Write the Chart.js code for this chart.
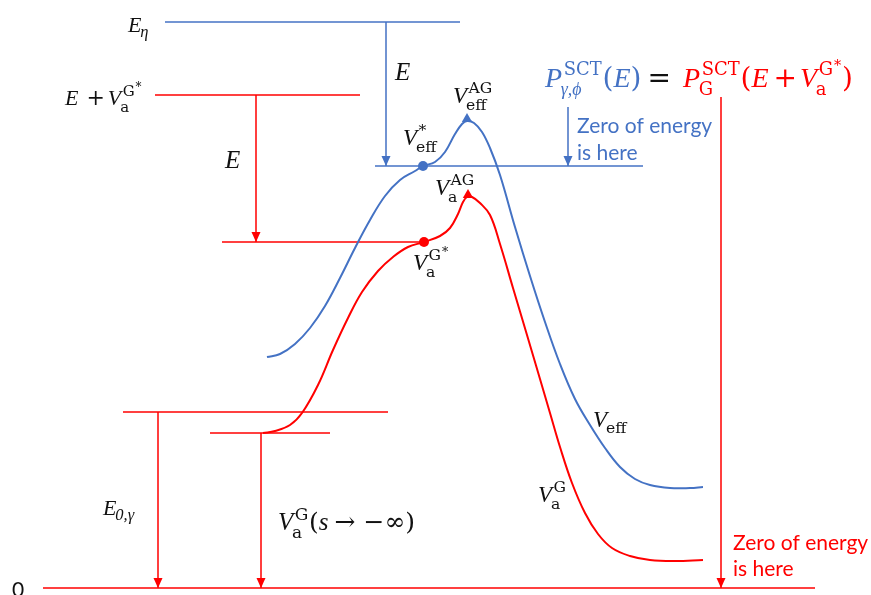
<!DOCTYPE html>
<html>
<head>
<meta charset="utf-8">
<script src="https://cdn.jsdelivr.net/npm/chart.js@4/dist/chart.umd.min.js"></script>
<style>
  html, body { margin: 0; padding: 0; background: #fff; }
  #wrap { width: 871px; height: 595px; }
</style>
</head>
<body>
<div id="wrap"><canvas id="diagram" width="871" height="595"></canvas></div>
<script>
// Energy diagram (reaction coordinate s vs energy, zero at bottom line)

// Effective potential V_eff (blue)
const sEff = [267, 280, 295, 310, 325, 340, 355, 370, 385, 400, 415, 423, 435, 445, 455, 462, 467, 474, 482, 490, 500, 515, 530, 545, 560, 575, 590, 605, 620, 635, 650, 670, 690, 703];
const vEff = [231, 234, 244, 260, 282, 310, 340, 368, 392, 408, 417, 422, 426, 436, 454, 464, 467, 465, 456, 440, 413, 361, 312, 266, 224, 189, 163, 140, 121, 109, 103, 100, 100, 101];

// Adiabatic ground-state potential V_a^G (red)
const sAG = [263, 275, 290, 302, 318, 333, 348, 362, 378, 393, 408, 424, 440, 450, 458, 463, 467, 472, 480, 490, 500, 513, 527, 540, 550, 560, 572, 585, 598, 612, 630, 650, 675, 703];
const vAG = [155, 157, 163, 175, 203, 238, 270, 296, 317, 331, 341, 346, 352, 360, 374, 386, 391, 391, 385, 373, 344, 300, 253, 209, 175, 141, 105, 75, 54, 40, 32, 28, 27, 28];

// Horizontal energy levels: energy, start s, end s
const blueLevelE = [566, 422];
const blueLevelFrom = [165, 375];
const blueLevelTo = [460, 643];
const redLevelE = [493, 346, 176, 155, 0];
const redLevelFrom = [155, 222, 123, 210, 43];
const redLevelTo = [360, 424, 388, 330, 815];

// Vertical arrows: s, energy at tail, energy at head
const blueArrowS = [386, 568];
const blueArrowFrom = [566, 481];
const blueArrowTo = [422, 422];
const redArrowS = [256, 721, 158, 261];
const redArrowFrom = [493, 491, 176, 155];
const redArrowTo = [346, 0, 0, 0];

// Marked points
const starS = [423, 424];      // V*_eff, V_a^G*
const starE = [422, 346];
const peakS = [467, 468];      // V_eff^AG, V_a^AG
const peakE = [469, 393];

const BLUE = '#4472C4';
const RED = '#FF0000';
const BLACK = '#111';
const SERIF_IT = '"Liberation Serif", "DejaVu Serif", serif';
const SERIF_UP = '"DejaVu Serif", "Liberation Serif", serif';
const SANS = 'Lato, "Open Sans", sans-serif';

function xy(xs, ys) {
    return xs.map((x, i) => ({ x: x, y: ys[i] }));
}

const datasets = [];

datasets.push({
    label: 'V_eff', data: xy(sEff, vEff), showLine: true,
    borderColor: BLUE, borderWidth: 2, pointRadius: 0, tension: 0.4
});
datasets.push({
    label: 'V_a^G', data: xy(sAG, vAG), showLine: true,
    borderColor: RED, borderWidth: 2, pointRadius: 0, tension: 0.4
});

function addLevels(es, from, to, color) {
    es.forEach((e, i) => {
        datasets.push({
            data: [{ x: from[i], y: e }, { x: to[i], y: e }], showLine: true,
            borderColor: color, borderWidth: 1.5, pointRadius: 0, tension: 0
        });
    });
}
addLevels(blueLevelE, blueLevelFrom, blueLevelTo, BLUE);
addLevels(redLevelE, redLevelFrom, redLevelTo, RED);

function addArrows(ss, from, to, color) {
    ss.forEach((s, i) => {
        datasets.push({
            data: [{ x: s, y: from[i] }, { x: s, y: to[i] }], showLine: true,
            borderColor: color, borderWidth: 1.5, pointRadius: 0, tension: 0,
            arrow: true
        });
    });
}
addArrows(blueArrowS, blueArrowFrom, blueArrowTo, BLUE);
addArrows(redArrowS, redArrowFrom, redArrowTo, RED);

datasets.push({
    data: xy(starS, starE), showLine: false, pointStyle: 'circle', pointRadius: 5,
    backgroundColor: [BLUE, RED], borderColor: [BLUE, RED], borderWidth: 0
});
datasets.push({
    data: xy(peakS, peakE), showLine: false, pointStyle: 'triangle', pointRadius: 6,
    backgroundColor: [BLUE, RED], borderColor: [BLUE, RED], borderWidth: 0
});

// Arrowheads: tip at the last point of each arrow dataset
const arrowHeads = {
    id: 'arrowHeads',
    afterDatasetsDraw(chart) {
        const ctx = chart.ctx;
        chart.data.datasets.forEach((ds, i) => {
            if (!ds.arrow) return;
            const pts = chart.getDatasetMeta(i).data;
            const a = pts[0], b = pts[pts.length - 1];
            const ang = Math.atan2(b.y - a.y, b.x - a.x);
            const len = 10, half = 4.5;
            ctx.save();
            ctx.translate(b.x, b.y);
            ctx.rotate(ang);
            ctx.beginPath();
            ctx.moveTo(0, 0);
            ctx.lineTo(-len, -half);
            ctx.lineTo(-len, half);
            ctx.closePath();
            ctx.fillStyle = ds.borderColor;
            ctx.fill();
            ctx.restore();
        });
    }
};

function mfont(it, size) {
    return it ? 'italic ' + size + 'px ' + SERIF_IT : size + 'px ' + SERIF_UP;
}

// small math typesetter: base tokens {t, it}, gaps {sp} and script stacks {sub, sup, star}
function drawMath(ctx, x, y, size, color, tokens) {
    ctx.fillStyle = color;
    ctx.textAlign = 'left';
    ctx.textBaseline = 'alphabetic';
    let cx = x;
    tokens.forEach(tk => {
        if (tk.color) ctx.fillStyle = tk.color;
        if (tk.sp != null) {
            cx += tk.sp;
        } else if (tk.t != null) {
            ctx.font = mfont(tk.it, size);
            ctx.fillText(tk.t, cx, y);
            cx += ctx.measureText(tk.t).width;
        } else {
            const ss = size * (tk.ratio || 0.68);
            let w = 0;
            if (tk.sub) {
                ctx.font = mfont(tk.subIt, ss);
                const sx = cx - size * 0.05;
                ctx.fillText(tk.sub, sx, y + size * (tk.sup ? 0.3 : 0.24));
                w = Math.max(w, ctx.measureText(tk.sub).width - size * 0.05);
            }
            if (tk.sup) {
                ctx.font = mfont(tk.supIt, ss);
                const sx = cx + size * 0.06;
                ctx.fillText(tk.sup, sx, y - size * 0.42);
                let sw = ctx.measureText(tk.sup).width + size * 0.06;
                if (tk.star) {
                    ctx.font = mfont(false, ss * 0.8);
                    ctx.fillText('*', cx + sw + 1, y - size * 0.62);
                    sw += ctx.measureText('*').width + 1;
                }
                w = Math.max(w, sw);
            }
            cx += w + size * 0.03;
        }
    });
    return cx;
}

const mathLabels = [
    { x: 128, y: 32, size: 22, color: BLACK, tokens: [{ t: 'E', it: 1 }, { sub: 'η', subIt: 1, ratio: 0.75 }] },
    { x: 395, y: 80, size: 25, color: BLACK, tokens: [{ t: 'E', it: 1 }] },
    { x: 225, y: 168, size: 25, color: BLACK, tokens: [{ t: 'E', it: 1 }] },
    { x: 65, y: 105, size: 22, color: BLACK, tokens: [{ t: 'E', it: 1 }, { sp: 8 }, { t: '+' }, { sp: 3 }, { t: 'V', it: 1 }, { sub: 'a', sup: 'G', star: 1 }] },
    { x: 453, y: 103, size: 23, color: BLACK, tokens: [{ t: 'V', it: 1 }, { sub: 'eff', sup: 'AG' }] },
    { x: 403, y: 145, size: 23, color: BLACK, tokens: [{ t: 'V', it: 1 }, { sub: 'eff', sup: '*' }] },
    { x: 435, y: 195, size: 23, color: BLACK, tokens: [{ t: 'V', it: 1 }, { sub: 'a', sup: 'AG' }] },
    { x: 413, y: 270, size: 23, color: BLACK, tokens: [{ t: 'V', it: 1 }, { sub: 'a', sup: 'G', star: 1 }] },
    { x: 593, y: 427, size: 23, color: BLACK, tokens: [{ t: 'V', it: 1 }, { sub: 'eff' }] },
    { x: 538, y: 502, size: 23, color: BLACK, tokens: [{ t: 'V', it: 1 }, { sub: 'a', sup: 'G' }] },
    { x: 103, y: 515, size: 22, color: BLACK, tokens: [{ t: 'E', it: 1 }, { sub: '0,γ', subIt: 1, ratio: 0.75 }] },
    { x: 278, y: 530, size: 25, color: BLACK, tokens: [
        { t: 'V', it: 1 }, { sub: 'a', sup: 'G' }, { t: '(' }, { t: 's', it: 1 },
        { sp: 6 }, { t: '→' }, { sp: 8 }, { t: '−∞)' }
    ] },
    { x: 545, y: 87, size: 28, color: BLUE, tokens: [
        { t: 'P', it: 1 }, { sub: 'γ,ϕ', subIt: 1, sup: 'SCT', ratio: 0.64 }, { t: '(' }, { t: 'E', it: 1 }, { t: ')' },
        { sp: 6 }, { t: '=', color: BLACK }, { sp: 12 },
        { t: 'P', it: 1, color: RED }, { sub: 'G', sup: 'SCT', ratio: 0.64 }, { t: '(' }, { t: 'E', it: 1 },
        { sp: 5 }, { t: '+' }, { sp: 3 },
        { t: 'V', it: 1 }, { sub: 'a', sup: 'G', star: 1, ratio: 0.64 }, { t: ')' }
    ] }
];

const textLabels = [
    { x: 577, y: 133, color: BLUE, text: 'Zero of energy' },
    { x: 577, y: 160, color: BLUE, text: 'is here' },
    { x: 733, y: 550, color: RED, text: 'Zero of energy' },
    { x: 733, y: 576, color: RED, text: 'is here' },
    { x: 12, y: 597, color: BLACK, text: '0' }
];

const annotations = {
    id: 'annotations',
    afterDraw(chart) {
        const ctx = chart.ctx;
        ctx.save();
        mathLabels.forEach(l => drawMath(ctx, l.x, l.y, l.size, l.color, l.tokens));
        ctx.font = '21px ' + SANS;
        ctx.textAlign = 'left';
        ctx.textBaseline = 'alphabetic';
        textLabels.forEach(l => {
            ctx.fillStyle = l.color;
            ctx.fillText(l.text, l.x, l.y);
        });
        ctx.restore();
    }
};

new Chart(document.getElementById('diagram').getContext('2d'), {
    type: 'scatter',
    data: { datasets: datasets },
    options: {
        responsive: false,
        animation: false,
        layout: { padding: 0, autoPadding: false },
        plugins: {
            legend: { display: false },
            tooltip: { enabled: false }
        },
        scales: {
            x: { type: 'linear', min: 0, max: 871, display: false },
            y: { type: 'linear', min: -7, max: 588, display: false }
        }
    },
    plugins: [arrowHeads, annotations]
});
</script>
</body>
</html>
